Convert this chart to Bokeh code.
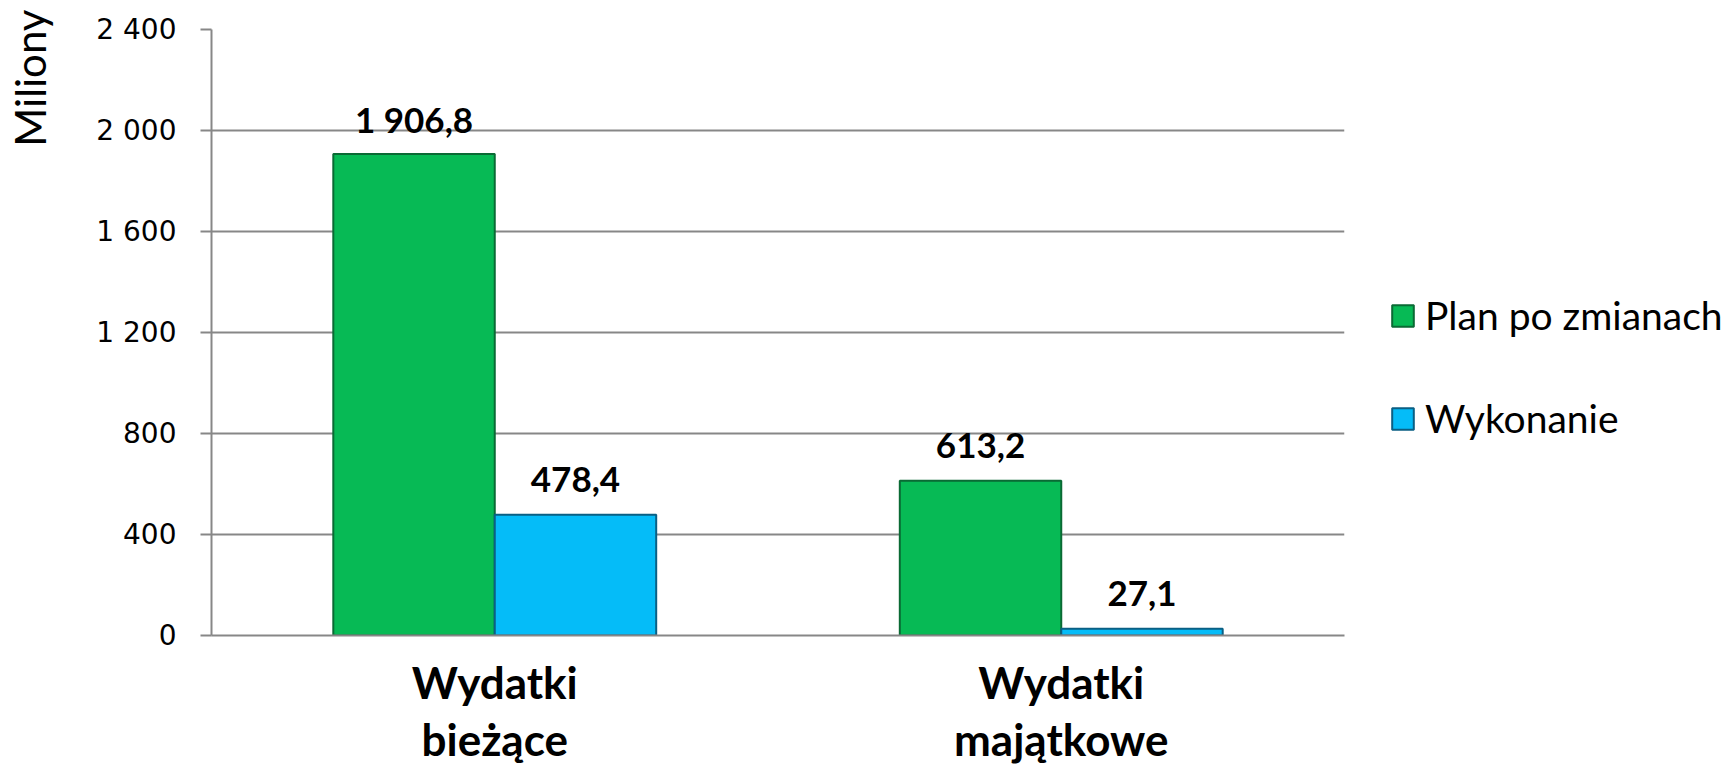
from bokeh.plotting import figure
from bokeh.models import (ColumnDataSource, Legend, LegendItem, Title, FactorRange,
                          Range1d, FixedTicker)
from bokeh.transform import dodge
from bokeh.embed import file_html
from bokeh.resources import INLINE
from bokeh.core.properties import value

categories = ["Wydatki\nbieżące", "Wydatki\nmajątkowe"]
series = ["Plan po zmianach", "Wykonanie"]
plan = [1906.8, 613.2]
wykonanie = [478.4, 27.1]
y_ticks = [0, 400, 800, 1200, 1600, 2000, 2400]
axis_title = "Miliony"


def fmt_pl(v, dec=1):
    s = f"{v:,.{dec}f}"
    return s.replace(",", " ").replace(".", ",")


src = ColumnDataSource(dict(
    cat=categories,
    plan=plan,
    wyk=wykonanie,
    plan_lbl=[fmt_pl(v) for v in plan],
    wyk_lbl=[fmt_pl(v) for v in wykonanie],
))

p = figure(frame_width=1133, frame_height=606, output_backend="svg", toolbar_location=None,
           x_range=FactorRange(*categories, range_padding=0),
           y_range=Range1d(0, 2400),
           min_border_left=210, min_border_right=388,
           min_border_top=29, min_border_bottom=129)
p.outline_line_color = None
p.background_fill_color = "white"
p.border_fill_color = "white"

green = "#07BA55"
blue = "#05BCF8"
bw = 0.285

r1 = p.vbar(x=dodge("cat", -bw / 2, range=p.x_range), top="plan", width=bw, source=src,
            fill_color=green, line_color="#0A6A34", line_width=2)
r2 = p.vbar(x=dodge("cat", bw / 2, range=p.x_range), top="wyk", width=bw, source=src,
            fill_color=blue, line_color="#0A5F84", line_width=2)

for col, lbl, off in (("plan", "plan_lbl", -bw / 2), ("wyk", "wyk_lbl", bw / 2)):
    p.text(x=dodge("cat", off, range=p.x_range), y=col, text=lbl, source=src,
           text_align="center", text_baseline="alphabetic", y_offset=-35,
           text_font=value("Lato"), text_font_style="bold", text_font_size="35px",
           text_color="black")

# axes
gray = "#878787"
p.yaxis.ticker = FixedTicker(ticks=y_ticks)
p.yaxis.major_label_overrides = {t: fmt_pl(t, 0) for t in y_ticks}
p.yaxis.major_label_text_font = "DejaVu Sans"
p.yaxis.major_label_text_font_size = "28px"
p.yaxis.major_label_text_color = "black"
p.yaxis.axis_line_color = gray
p.yaxis.axis_line_width = 2
p.yaxis.major_tick_line_color = gray
p.yaxis.major_tick_line_width = 2
p.yaxis.major_tick_out = 11
p.yaxis.major_tick_in = 0
p.yaxis.minor_tick_line_color = None
p.yaxis.major_label_standoff = 24
# invisible spacer label between tick labels and the "Miliony" title
p.yaxis.axis_label = " "
p.yaxis.axis_label_text_font_size = "10px"
p.yaxis.axis_label_standoff = 18

p.xaxis.axis_line_color = gray
p.xaxis.axis_line_width = 2
p.xaxis.major_tick_line_color = None
p.xaxis.minor_tick_line_color = None
p.xaxis.major_label_text_font = "Lato"
p.xaxis.major_label_text_font_style = "bold"
p.xaxis.major_label_text_font_size = "44px"
p.xaxis.major_label_text_color = "black"
p.xaxis.major_label_standoff = 14
p.xaxis.major_label_text_line_height = 1.1

p.xgrid.grid_line_color = None
p.ygrid.grid_line_color = gray
p.ygrid.grid_line_width = 2

p.add_layout(Title(text=axis_title, align="right", vertical_align="top",
                   text_font="Lato", text_font_size="42px", text_font_style="normal",
                   text_color="black", standoff=9, offset=-20), "left")

legend = Legend(items=[LegendItem(label=series[0], renderers=[r1]),
                       LegendItem(label=series[1], renderers=[r2])],
                location=(45, 194), orientation="vertical",
                glyph_width=27, glyph_height=27, label_standoff=9,
                label_height=46,
                label_text_font="Lato", label_text_font_size="39px",
                label_text_color="black", spacing=57, padding=0, margin=0,
                border_line_alpha=0, background_fill_alpha=0)
p.add_layout(legend, "right")

open("out.html", "w").write(file_html(p, INLINE))
